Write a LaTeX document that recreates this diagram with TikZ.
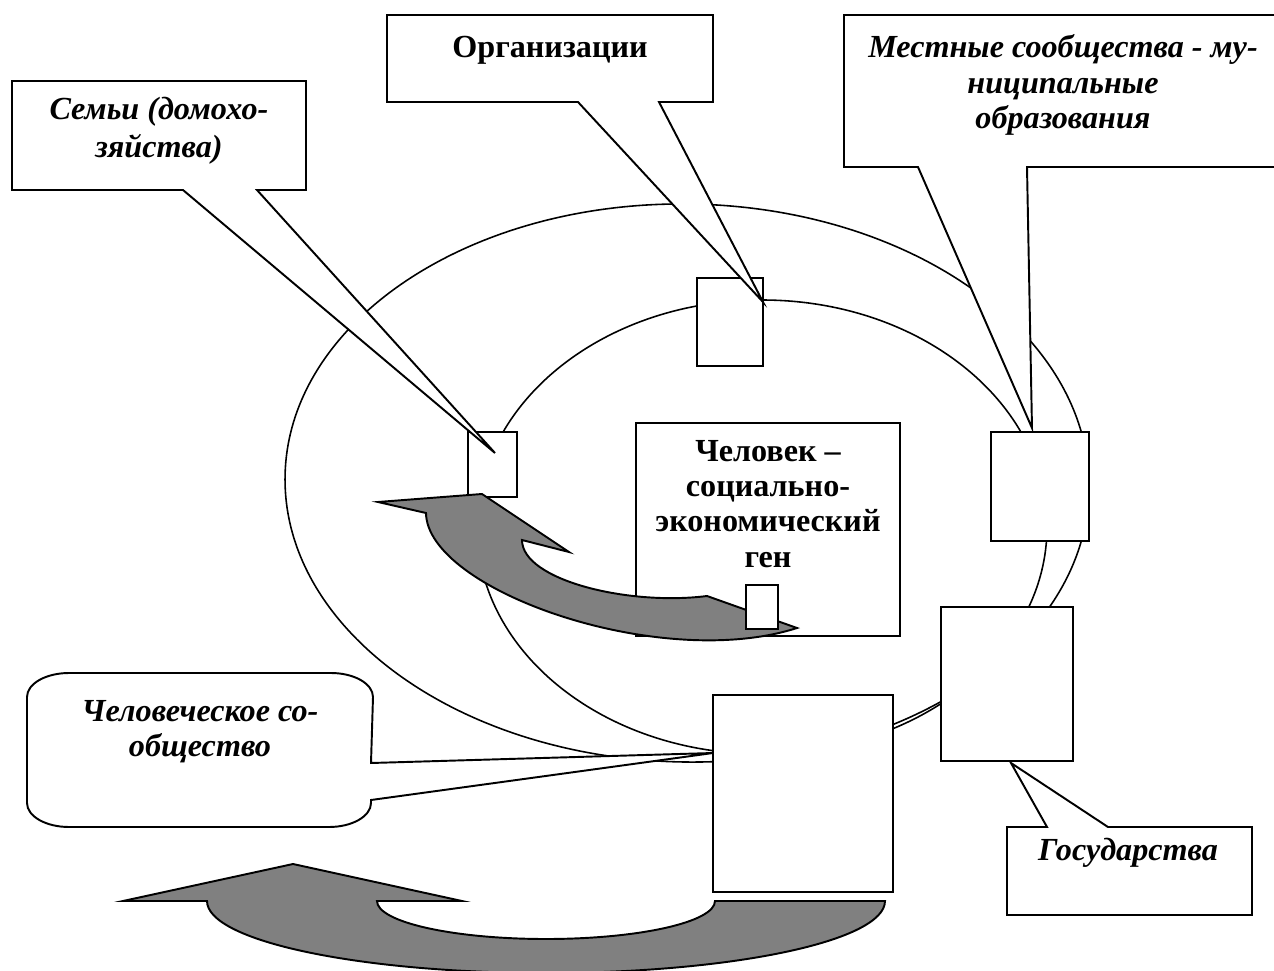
\documentclass[tikz,border=0pt]{standalone}
\usepackage{fontspec}
\setmainfont{Liberation Serif}
\usepackage{tikz}
\usetikzlibrary{calc}

\begin{document}
\begin{tikzpicture}[x=0.2mm, y=-0.2mm,
  cell/.style={draw, fill=white, line width=1.1pt},
  orbit/.style={draw, line width=0.9pt},
  callout/.style={draw, fill=white, line width=1.1pt},
  flow/.style={draw, fill=gray, line width=1.1pt},
  caption/.style={font=\fontsize{18.3}{20}\selectfont\bfseries\itshape, align=center, inner sep=0pt},
  title/.style={font=\fontsize{18.3}{20}\selectfont\bfseries, align=center, inner sep=0pt}]
\useasboundingbox (0,0) rectangle (1274,971);

% Two orbits
\draw[orbit, rotate around={-1:(687,483)}] (687,483) ellipse [x radius=402, y radius=279];
\draw[orbit] (762,527) ellipse [x radius=285, y radius=227];

% Cells on the orbits
\filldraw[cell] (468,432) rectangle (517,497);
\filldraw[cell] (697,278) rectangle (763,366);
\filldraw[cell] (991,432) rectangle (1089,541);
\filldraw[cell] (941,607) rectangle (1073,761);
\filldraw[cell] (713,695) rectangle (893,892);

% Tips of the callouts
\coordinate (semjaTip) at (495,453);
\coordinate (orgTip) at (763,302);
\coordinate (munTip) at (1032,428);
\coordinate (govTip) at (1011,763);
\coordinate (humanTip) at (713,753);

% Top left: families
\path[callout] (12,81) -- (306,81) -- (306,190) -- (257,190) -- (semjaTip) -- (183,190) -- (12,190) -- cycle;
\node[caption] (semja) at (159,131) {Семьи (домохо-\\[1.5pt]зяйства)};

% Top: organisations
\path[callout] (387,15) -- (713,15) -- (713,102) -- (659,102) -- (orgTip) -- (578,102) -- (387,102) -- cycle;
\node[title] (org) at (550,50) {Организации};

% Top right: municipalities
\path[callout] (844,15) -- (1290,15) -- (1290,167) -- (1027,167) -- (munTip) -- (918,167) -- (844,167) -- cycle;
\node[caption] (mun) at (1063,85) {Местные сообщества - му-\\ниципальные\\образования};

% Bottom right: states
\path[callout] (1007,827) -- (1047,827) -- (govTip) -- (1108,827) -- (1252,827) -- (1252,915) -- (1007,915) -- cycle;
\node[caption] (gov) at (1128,853) {Государства};

% Bottom left: human community (rounded)
\path[callout] (67,673) -- (331,673) arc[start angle=270, end angle=360, x radius=42, y radius=24]
  -- (371,763) -- (humanTip) -- (371,800) -- (371,803) arc[start angle=0, end angle=90, x radius=42, y radius=24]
  -- (69,827) arc[start angle=90, end angle=180, x radius=42, y radius=24]
  -- (27,697) arc[start angle=180, end angle=270, x radius=42, y radius=24] -- cycle;
\node[caption] (human) at (200,732) {Человеческое со-\\общество};

% Centre: the gene
\filldraw[cell] (636,423) rectangle (900,636);
\node[title] (gene) at (768,504) {Человек –\\социально-\\экономический\\ген};

% Small curved arrow
\path[flow] (378,502) -- (482,494) -- (569,552) -- (522,540) .. controls (522,580) and (628,606) .. (707,596)
  -- (797,628) .. controls (660,672) and (427,590) .. (426,513) -- cycle;
\filldraw[cell] (746,585) rectangle (778,629);

% Big curved arrow
\path[flow] (123,901) -- (293,864) -- (462,901) -- (377,901) arc[start angle=180, end angle=0, x radius=169, y radius=38]
  -- (885,901) arc[start angle=0, end angle=180, x radius=339, y radius=72] -- cycle;
\end{tikzpicture}
\end{document}
